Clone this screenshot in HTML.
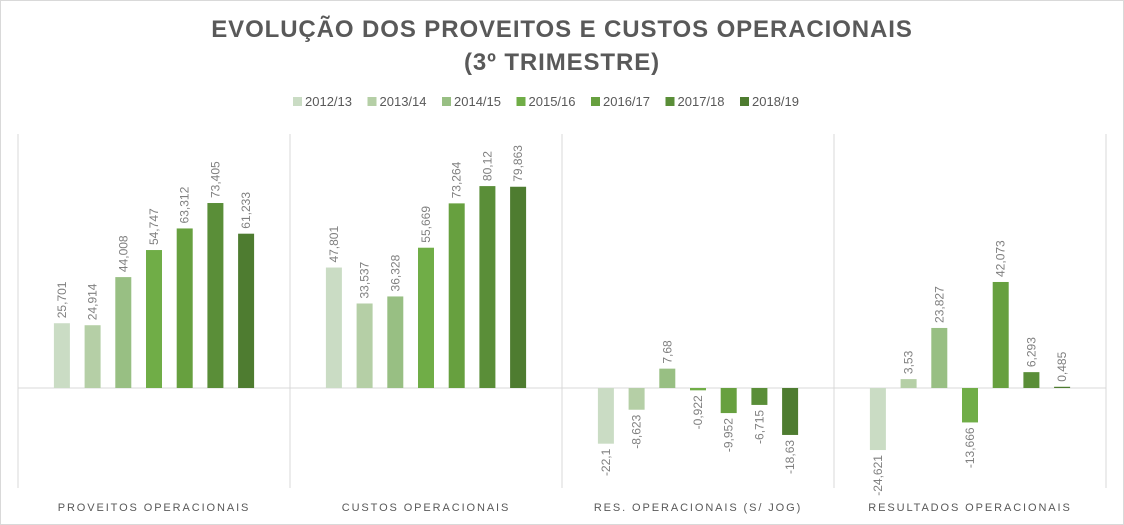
<!DOCTYPE html>
<html><head><meta charset="utf-8"><style>
body{margin:0;background:#fff;}
svg{display:block;font-family:"Liberation Sans",sans-serif;}
</style></head><body>
<svg id="chart" width="1124" height="525">
<rect x="0.5" y="0.5" width="1123" height="524" fill="#fff" stroke="#d9d9d9"/>
<text x="562" y="37" text-anchor="middle" font-size="24" font-weight="bold" fill="#595959" letter-spacing="0.9">EVOLUÇÃO DOS PROVEITOS E CUSTOS OPERACIONAIS</text>
<text x="562" y="70" text-anchor="middle" font-size="24" font-weight="bold" fill="#595959" letter-spacing="0.9">(3º TRIMESTRE)</text>
<g id="legend"></g>
<g id="grid"></g>
<g id="bars"></g>
<g id="labels"></g>
</svg>
<script>
const categories=["PROVEITOS OPERACIONAIS","CUSTOS OPERACIONAIS","RES. OPERACIONAIS (S/ JOG)","RESULTADOS OPERACIONAIS"];
const seriesNames=["2012/13","2013/14","2014/15","2015/16","2016/17","2017/18","2018/19"];
const s2012=[25.701,47.801,-22.1,-24.621];
const s2013=[24.914,33.537,-8.623,3.53];
const s2014=[44.008,36.328,7.68,23.827];
const s2015=[54.747,55.669,-0.922,-13.666];
const s2016=[63.312,73.264,-9.952,42.073];
const s2017=[73.405,80.12,-6.715,6.293];
const s2018=[61.233,79.863,-18.63,0.485];
const series=[s2012,s2013,s2014,s2015,s2016,s2017,s2018];
const colors=["#cadcc4","#b5cfa6","#98bf83","#70ad47","#67a03f","#5a8e38","#4e7c30"];
const NS="http://www.w3.org/2000/svg";
const plotL=18,plotR=1106,zeroY=388,scale=2.52,plotTop=134,plotBot=488;
const catW=(plotR-plotL)/categories.length;
const y=v=>zeroY-v*scale;
const cx=i=>plotL+catW*(i+0.5);
function mk(tag,attrs,parent){const e=document.createElementNS(NS,tag);for(const k in attrs)e.setAttribute(k,attrs[k]);document.getElementById(parent).appendChild(e);return e;}
let lx=293;
seriesNames.forEach((n,i)=>{
 const r=mk('rect',{x:lx,y:97,width:9,height:9,fill:colors[i]},'legend');
 
 
 const t=mk('text',{x:lx+12,y:106,'font-size':13,fill:'#595959'},'legend');
 t.textContent=n;
 
 
 lx+=74.5;
});
for(let i=0;i<=categories.length;i++){
 const l=mk('line',{x1:plotL+catW*i,x2:plotL+catW*i,y1:plotTop,y2:plotBot,stroke:'#d9d9d9','stroke-width':1},'grid');
 
 
}
categories.forEach((c,i)=>{
 const t=mk('text',{x:cx(i),y:511,'text-anchor':'middle','font-size':11,fill:'#595959','letter-spacing':1.9},'labels');
 t.textContent=c;
 
 
});
const step=30.7,bw=16;
categories.forEach((c,ci)=>{
 series.forEach((s,si)=>{
  const v=s[ci];const bx=cx(ci)+(si-3)*step-bw/2;
  const top=Math.min(y(v),zeroY),h=Math.max(Math.abs(v*scale),1);
  const r=mk('rect',{x:bx,y:top,width:bw,height:h,fill:colors[si]},'bars');
  
  
  const txt=String(v).replace('.',',');
  const lxp=bx+bw/2+4;
  let t;
  if(v>=0){const ly=top-5;t=mk('text',{x:lxp,y:ly,transform:`rotate(-90 ${lxp} ${ly})`,'font-size':12,fill:'#7f7f7f'},'labels');}
  else{const ly=top+h+5;t=mk('text',{x:lxp,y:ly,transform:`rotate(-90 ${lxp} ${ly})`,'text-anchor':'end','font-size':12,fill:'#7f7f7f'},'labels');}
  t.textContent=txt;
  
  
 });
});
const z=mk('line',{x1:plotL,x2:plotR,y1:zeroY,y2:zeroY,stroke:'#d9d9d9','stroke-width':1},'grid');


</script>
</body></html>
